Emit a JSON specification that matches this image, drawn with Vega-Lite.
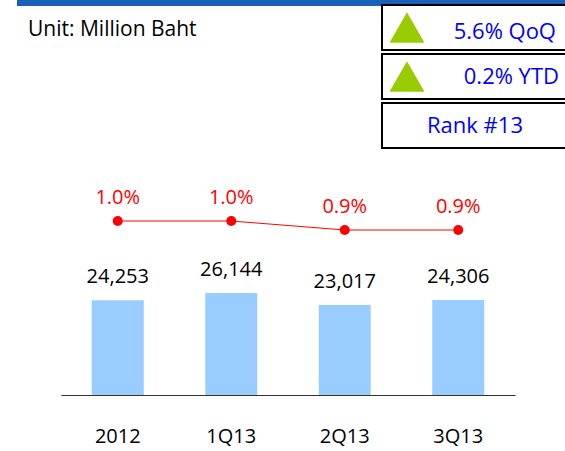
{
  "$schema": "https://vega.github.io/schema/vega-lite/v6.json",
  "width": 565,
  "height": 451,
  "padding": 0,
  "autosize": {"type": "none"},
  "background": "white",
  "config": {"view": {"stroke": null}, "font": "Open Sans", "text": {"font": "Open Sans"}},
  "layer": [
    {
      "data": {"values": [{"part": "header"}]},
      "mark": {"type": "rect", "color": "#1860B8"},
      "encoding": {
        "x": {"datum": "header", "type": "nominal", "scale": {"range": [17, 565], "paddingInner": 0, "paddingOuter": 0}, "axis": null},
        "y": {"datum": "header", "type": "nominal", "scale": {"range": [0, 6], "paddingInner": 0, "paddingOuter": 0}, "axis": null}
      }
    },
    {
      "data": {"values": [{"note": "Unit: Million Baht"}]},
      "mark": {"type": "text", "fontSize": 21, "align": "left", "baseline": "alphabetic", "color": "black"},
      "encoding": {
        "text": {"field": "note", "type": "nominal"},
        "x": {"datum": "note", "type": "nominal", "scale": {"range": [0, 56], "paddingInner": 0, "paddingOuter": 0}, "axis": null},
        "y": {"datum": "note", "type": "nominal", "scale": {"range": [0, 72], "paddingInner": 0, "paddingOuter": 0}, "axis": null}
      }
    },
    {
      "data": {"values": [
        {"period": "2012", "amount": 24253, "share": 0.010},
        {"period": "1Q13", "amount": 26144, "share": 0.010},
        {"period": "2Q13", "amount": 23017, "share": 0.009},
        {"period": "3Q13", "amount": 24306, "share": 0.009}
      ]},
      "encoding": {
        "x": {
          "field": "period", "type": "ordinal", "sort": null,
          "scale": {"range": [61, 515], "paddingInner": 0, "paddingOuter": 0},
          "axis": {
            "orient": "bottom", "offset": -56, "title": null, "grid": false,
            "domainColor": "#333333", "domainWidth": 1, "ticks": false, "tickSize": 0,
            "labelPadding": 47, "labelBaseline": "alphabetic", "labelFontSize": 20,
            "labelColor": "black", "labelFont": "Open Sans", "labelAngle": 0
          }
        }
      },
      "layer": [
        {
          "encoding": {"y": {"field": "amount", "type": "quantitative", "scale": {"domain": [0, 101120], "range": [395, 0], "nice": false}, "axis": null}},
          "layer": [
            {"mark": {"type": "bar", "size": 52, "color": "#99CCFF"}},
            {"mark": {"type": "text", "dy": -17, "baseline": "alphabetic", "fontSize": 20, "color": "black"},
             "encoding": {"text": {"field": "amount", "type": "quantitative", "format": ","}}}
          ]
        },
        {
          "encoding": {"y": {"field": "share", "type": "quantitative", "scale": {"domain": [0.009, 0.010], "range": [230, 221], "nice": false, "zero": false}, "axis": null}},
          "layer": [
            {"mark": {"type": "line", "color": "#FF0000", "strokeWidth": 1}},
            {"mark": {"type": "point", "filled": true, "size": 100, "color": "#FF0000", "opacity": 1}},
            {"mark": {"type": "text", "dy": -17, "baseline": "alphabetic", "fontSize": 20, "color": "#FF0000"},
             "encoding": {"text": {"field": "share", "type": "quantitative", "format": ".1%"}}}
          ]
        }
      ],
      "resolve": {"scale": {"y": "independent"}}
    },
    {
      "data": {"values": [
        {"kpi": "5.6% QoQ", "trend": "up"},
        {"kpi": "0.2% YTD", "trend": "up"},
        {"kpi": "Rank #13", "trend": "none"}
      ]},
      "encoding": {
        "y": {"field": "kpi", "type": "nominal", "sort": null,
              "scale": {"domain": ["5.6% QoQ", "0.2% YTD", "Rank #13"], "range": [5, 148], "paddingInner": 0.082, "paddingOuter": 0},
              "axis": null}
      },
      "layer": [
        {
          "mark": {"type": "rect", "fill": "white", "stroke": "black", "strokeWidth": 2},
          "encoding": {"x": {"datum": "box", "type": "nominal", "scale": {"range": [382, 580], "paddingInner": 0, "paddingOuter": 0}, "axis": null}}
        },
        {
          "transform": [{"filter": "datum.trend === 'up'"}],
          "mark": {"type": "point", "shape": "triangle-up", "filled": true, "size": 1225, "color": "#99CC00", "opacity": 1, "strokeWidth": 0},
          "encoding": {"x": {"datum": "arrow", "type": "nominal", "scale": {"range": [382, 432], "paddingInner": 0, "paddingOuter": 0}, "axis": null}}
        },
        {
          "transform": [{"filter": "datum.kpi === '5.6% QoQ'"}],
          "mark": {"type": "text", "align": "right", "baseline": "alphabetic", "dx": 75, "dy": 12, "fontSize": 22, "color": "#0000FF"},
          "encoding": {
            "text": {"field": "kpi", "type": "nominal"},
            "x": {"datum": "label", "type": "nominal", "scale": {"range": [382, 580], "paddingInner": 0, "paddingOuter": 0}, "axis": null}
          }
        },
        {
          "transform": [{"filter": "datum.kpi === '0.2% YTD'"}],
          "mark": {"type": "text", "align": "right", "baseline": "alphabetic", "dx": 78, "dy": 7, "fontSize": 22, "color": "#0000FF"},
          "encoding": {
            "text": {"field": "kpi", "type": "nominal"},
            "x": {"datum": "label", "type": "nominal", "scale": {"range": [382, 580], "paddingInner": 0, "paddingOuter": 0}, "axis": null}
          }
        },
        {
          "transform": [{"filter": "datum.trend === 'none'"}],
          "mark": {"type": "text", "align": "center", "baseline": "alphabetic", "dx": -6, "dy": 7, "fontSize": 22, "color": "#0000FF"},
          "encoding": {
            "text": {"field": "kpi", "type": "nominal"},
            "x": {"datum": "label", "type": "nominal", "scale": {"range": [382, 580], "paddingInner": 0, "paddingOuter": 0}, "axis": null}
          }
        }
      ],
      "resolve": {"scale": {"x": "independent"}}
    }
  ],
  "resolve": {"scale": {"x": "independent", "y": "independent"}}
}
